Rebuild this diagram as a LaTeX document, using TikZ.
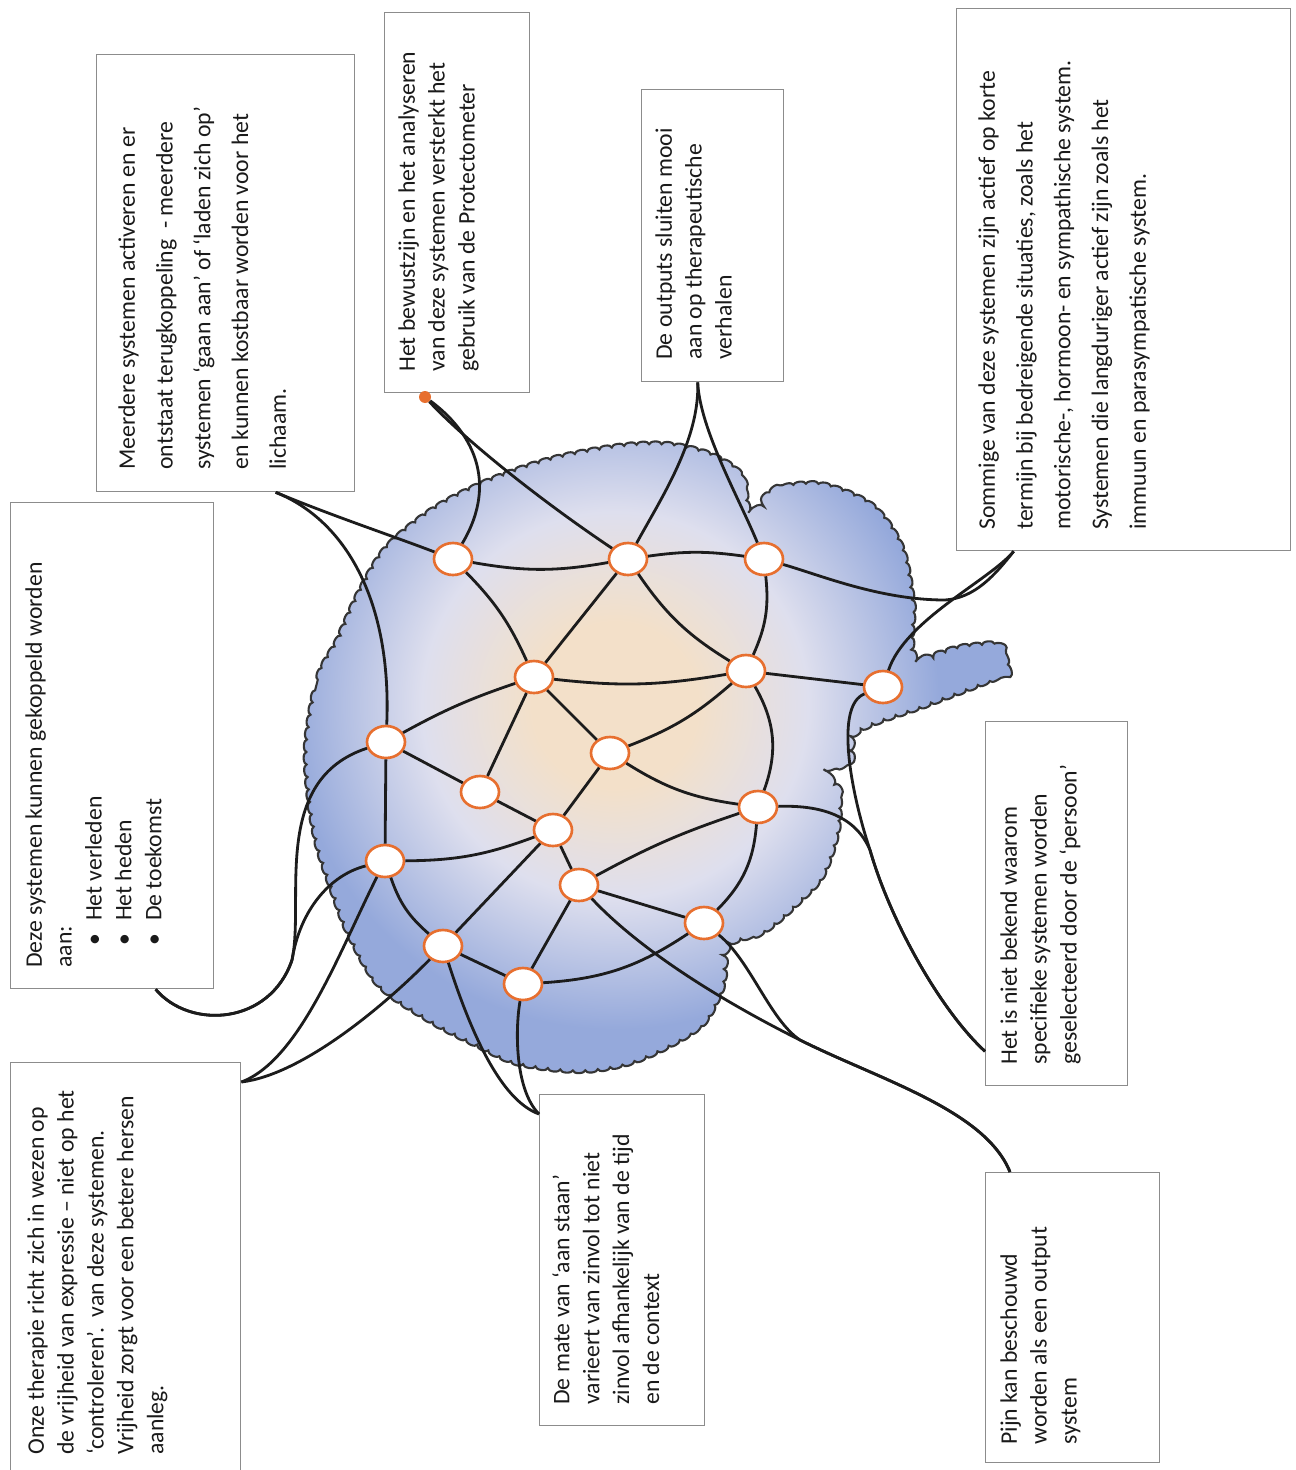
\documentclass[tikz,border=0pt]{standalone}
\usepackage{fontspec}
\setmainfont{Carlito}
\usetikzlibrary{calc,positioning,shapes.geometric,decorations.pathmorphing}
\definecolor{NodeOrange}{HTML}{E76F2F}
\definecolor{LinkBlack}{HTML}{1C1C1C}
\definecolor{BoxGray}{HTML}{8C8C8C}
\definecolor{TextDark}{HTML}{1A1A1A}
\definecolor{BrainEdge}{HTML}{353535}
\definecolor{BrainCore}{HTML}{F3E0C9}
\definecolor{BrainMist}{HTML}{DEDFEE}
\definecolor{BrainBlue}{HTML}{95A9DB}
\pgfdeclareradialshading{brainglow}{\pgfpoint{0bp}{0bp}}{%
  color(0bp)=(BrainCore); color(6bp)=(BrainCore); color(14bp)=(BrainMist);
  color(23.5bp)=(BrainBlue); color(50bp)=(BrainBlue)}
\tikzset{
  system/.style={ellipse,draw=NodeOrange,line width=1.5pt,fill=white,minimum width=0.76cm,minimum height=0.64cm,inner sep=0pt},
  link/.style={line width=1.6pt,draw=LinkBlack},
  infobox/.style={draw=BoxGray,line width=0.8pt,fill=white,anchor=north west,inner sep=0pt},
  infotext/.style={rotate=90,anchor=north west,align=left,inner sep=0pt,text=TextDark,font=\fontsize{13.5}{17}\selectfont},
  widetext/.style={infotext,font=\fontsize{13.5}{21.5}\selectfont},
  enddot/.style={circle,fill=NodeOrange,minimum size=0.24cm,inner sep=0pt},
  scallop/.style={decorate,decoration={bumps,segment length=0.5cm,amplitude=0.06cm}}
}
% outline of the brain, in pixel units
\newcommand{\brainoutline}{plot[smooth cycle,tension=0.55] coordinates {
  (307,745) (318,680) (338,640) (360,592) (387,548) (433,510) (487,482)
  (550,460) (617,447) (667,445) (710,455) (740,475) (750,510) (775,490)
  (820,485) (870,505) (900,545) (912,600) (915,655) (960,648) (995,645)
  (1005,660) (1000,675) (930,703) (860,730) (850,760) (828,770) (838,790)
  (837,830) (823,873) (800,900) (765,930) (730,945) (722,985) (705,1020)
  (675,1042) (630,1062) (580,1070) (520,1063) (478,1045) (430,1020)
  (380,985) (350,935) (332,888) (318,845) (310,800)}}

\begin{document}
\begin{tikzpicture}[x=0.02cm,y=-0.02cm]
  \useasboundingbox (0,0) rectangle (1295,1470);

  % brain: blue wash with a warm centre
  \begin{scope}
    \clip[scallop] \brainoutline;
    \fill[BrainBlue] (250,400) rectangle (1050,1100);
    \shade[shading=brainglow] (615,705) circle (345);
  \end{scope}
  \draw[scallop,draw=BrainEdge,line width=1.2pt] \brainoutline;

  % text boxes
  \node[infobox,minimum width=5.16cm,minimum height=8.74cm] (meerdere) at (96,54) {};
  \node[infobox,minimum width=2.9cm,minimum height=7.6cm] (bewust) at (384,12) {};
  \node[infobox,minimum width=2.84cm,minimum height=5.84cm] (outputs) at (641,89) {};
  \node[infobox,minimum width=6.68cm,minimum height=10.84cm] (sommige) at (956,8) {};
  \node[infobox,minimum width=4.06cm,minimum height=9.72cm] (deze) at (10,502) {};
  \node[infobox,minimum width=4.6cm,minimum height=8.6cm] (onze) at (10,1062) {};
  \node[infobox,minimum width=2.84cm,minimum height=7.28cm] (bekend) at (985,721) {};
  \node[infobox,minimum width=3.3cm,minimum height=6.62cm] (mate) at (539,1094) {};
  \node[infobox,minimum width=3.48cm,minimum height=5.8cm] (pijn) at (985,1172) {};

  \node[widetext] (meerdere-text) at (118,470)
    {Meerdere systemen activeren en er\\
     ontstaat terugkoppeling\ \ - meerdere\\
     systemen ‘gaan aan’ of ‘laden zich op’\\
     en kunnen kostbaar worden voor het\\
     lichaam.};
  \node[infotext] (bewust-text) at (398,372)
    {Het bewustzijn en het analyseren\\
     van deze systemen versterkt het\\
     gebruik van de Protectometer};
  \node[infotext] (outputs-text) at (655,360)
    {De outputs sluiten mooi\\
     aan op therapeutische\\
     verhalen};
  \node[widetext] (sommige-text) at (978,530)
    {Sommige van deze systemen zijn actief op korte\\
     termijn bij bedreigende situaties, zoals het\\
     motorische-, hormoon- en sympathische system.\\
     Systemen die langduriger actief zijn zoals het\\
     immuun en parasympatische system.};
  \node[infotext] (deze-text) at (25,968)
    {Deze systemen kunnen gekoppeld worden\\
     aan:\\
     \hspace*{0.45cm}\textbullet\hspace{0.25cm}Het verleden\\
     \hspace*{0.45cm}\textbullet\hspace{0.25cm}Het heden\\
     \hspace*{0.45cm}\textbullet\hspace{0.25cm}De toekomst};
  \node[infotext] (onze-text) at (27,1455)
    {Onze therapie richt zich in wezen op\\
     de vrijheid van expressie -- niet op het\\
     ‘controleren’.\ \ van deze systemen.\\
     Vrijheid zorgt voor een betere hersen\\
     aanleg.};
  \node[infotext] (bekend-text) at (1000,1065)
    {Het is niet bekend waarom\\
     specifieke systemen worden\\
     geselecteerd door de ‘persoon’};
  \node[infotext] (mate-text) at (552,1405)
    {De mate van ‘aan staan’\\
     varieert van zinvol tot niet\\
     zinvol afhankelijk van de tijd\\
     en de context};
  \node[infotext] (pijn-text) at (1000,1445)
    {Pijn kan beschouwd\\
     worden als een output\\
     system};

  % systems
  \node[system] (s1) at (453,559) {};
  \node[system] (s2) at (628,559) {};
  \node[system] (s3) at (764,559) {};
  \node[system] (s4) at (534,677) {};
  \node[system] (s5) at (746,671) {};
  \node[system] (s6) at (883,687) {};
  \node[system] (s7) at (386,742) {};
  \node[system] (s8) at (610,753) {};
  \node[system] (s9) at (480,792) {};
  \node[system] (s10) at (553,830) {};
  \node[system] (s11) at (758,807) {};
  \node[system] (s12) at (385,861) {};
  \node[system] (s13) at (579,885) {};
  \node[system] (s14) at (704,923) {};
  \node[system] (s15) at (443,946) {};
  \node[system] (s16) at (523,984) {};
  \node[enddot] (bewust-dot) at (425,397) {};

  % network inside the brain
  \draw[link] (s1) to[bend right=10] (s2);
  \draw[link] (s2) to[bend left=8] (s3);
  \draw[link] (s1) to[bend left=10] (s4);
  \draw[link] (s2) -- (s4);
  \draw[link] (s2) to[bend right=12] (s5);
  \draw[link] (s3) to[bend left=15] (s5);
  \draw[link] (s4) to[bend right=8] (s5);
  \draw[link] (s4) to[bend right=5] (s7);
  \draw[link] (s4) -- (s8);
  \draw[link] (s4) -- (s9);
  \draw[link] (s5) to[bend left=10] (s8);
  \draw[link] (s5) -- (s6);
  \draw[link] (s5) to[bend left=25] (s11);
  \draw[link] (s7) -- (s12);
  \draw[link] (s7) -- (s9);
  \draw[link] (s9) -- (s10);
  \draw[link] (s12) to[bend right=10] (s10);
  \draw[link] (s12) to[bend right=15] (s15);
  \draw[link] (s15) -- (s16);
  \draw[link] (s15) -- (s10);
  \draw[link] (s10) -- (s8);
  \draw[link] (s10) -- (s13);
  \draw[link] (s8) to[bend right=12] (s11);
  \draw[link] (s13) to[bend left=5] (s11);
  \draw[link] (s13) -- (s14);
  \draw[link] (s13) -- (s16);
  \draw[link] (s16) to[bend right=15] (s14);
  \draw[link] (s14) to[bend right=20] (s11);

  % links out to the boxes
  \draw[link] ([xshift=1cm]meerdere.south) .. controls (330,515) and (390,535) .. (s1);
  \draw[link] ([xshift=1cm]meerdere.south) .. controls (345,520) and (392,600) .. (s7);
  \draw[link] (bewust-dot) .. controls (470,430) and (500,480) .. (s1);
  \draw[link] (bewust-dot) .. controls (465,440) and (540,500) .. (s2);
  \draw[link] ([xshift=-0.3cm]outputs.south) .. controls (700,440) and (660,500) .. (s2);
  \draw[link] ([xshift=-0.3cm]outputs.south) .. controls (700,430) and (740,500) .. (s3);
  \draw[link] ([xshift=-2.2cm]sommige.south) .. controls (990,580) and (905,620) .. (s6);
  \draw[link] ([xshift=-2.2cm]sommige.south) .. controls (995,575) and (975,598) .. (945,600)
    .. controls (880,600) and (820,575) .. (s3);
  \draw[link] ([xshift=0.87cm]deze.south) .. controls (190,1030) and (270,1025) .. (292,960)
    .. controls (305,900) and (270,780) .. (s7);
  \draw[link] ([xshift=0.87cm]deze.south) .. controls (190,1030) and (270,1025) .. (292,960)
    .. controls (300,910) and (330,875) .. (s12);
  \draw[link] ([yshift=-0.4cm]onze.north east) .. controls (300,1060) and (340,950) .. (s12);
  \draw[link] ([yshift=-0.4cm]onze.north east) .. controls (300,1075) and (380,1010) .. (s15);
  \draw[link] ([yshift=-0.4cm]mate.north west) .. controls (500,1100) and (470,1030) .. (s15);
  \draw[link] ([yshift=-0.4cm]mate.north west) .. controls (515,1090) and (515,1030) .. (s16);
  \draw[link] ([yshift=0.7cm]bekend.south west) .. controls (940,1010) and (890,920) .. (870,850)
    .. controls (850,790) and (835,705) .. (s6);
  \draw[link] ([yshift=0.7cm]bekend.south west) .. controls (940,1010) and (890,920) .. (870,850)
    .. controls (855,815) and (820,805) .. (s11);
  \draw[link] ([xshift=0.5cm]pijn.north west) .. controls (985,1110) and (880,1080) .. (800,1040)
    .. controls (720,1000) and (640,950) .. (s13);
  \draw[link] ([xshift=0.5cm]pijn.north west) .. controls (985,1110) and (880,1080) .. (800,1040)
    .. controls (770,1020) and (750,960) .. (s14);
\end{tikzpicture}
\end{document}
